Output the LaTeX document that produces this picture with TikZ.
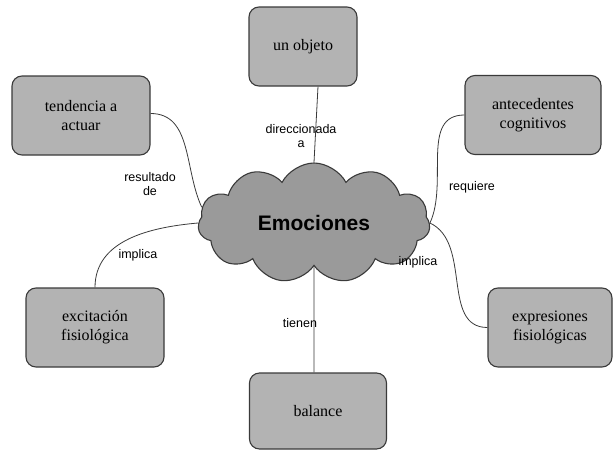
\documentclass[tikz,border=0pt]{standalone}
\usepackage{fontspec}
\setmainfont{Liberation Serif}
\setsansfont{Liberation Sans}
\usetikzlibrary{shapes.symbols}
\usetikzlibrary{positioning}

\definecolor{boxgray}{HTML}{B3B3B3}
\definecolor{cloudgray}{HTML}{9A9A9A}
\definecolor{edgegray}{HTML}{3A3A3A}

\tikzset{
  concept/.style={draw=edgegray, line width=1.1pt, fill=boxgray, rounded corners=10pt,
    minimum height=79pt, align=center, font=\fontsize{16}{19}\selectfont},
  central/.style={cloud, cloud puffs=11, cloud puff arc=125, cloud ignores aspect,
    draw=edgegray, line width=1.1pt, fill=cloudgray, minimum width=232pt, minimum height=120pt,
    font=\sffamily\bfseries\fontsize{21}{24}\selectfont},
  link/.style={draw=edgegray, line width=0.8pt},
  linklabel/.style={font=\sffamily\fontsize{12.5}{14}\selectfont, align=center, inner sep=1pt}
}

\begin{document}
\begin{tikzpicture}[x=1pt, y=-1pt]
  \useasboundingbox (0,0) rectangle (614,450);
  % concepts
  \node[central] (emo) at (314,223) {Emociones};
  \node[concept, minimum width=108pt] (obj) at (303,46.5) {un objeto};
  \node[concept, minimum width=138pt] (ten) at (81,115.5) {tendencia a\\actuar};
  \node[concept, minimum width=136pt] (ant) at (533,115) {antecedentes\\cognitivos};
  \node[concept, minimum width=138pt] (exc) at (95,327.5) {excitación\\fisiológica};
  \node[concept, minimum width=124pt] (exp) at (550,327.5) {expresiones\\fisiológicas};
  \node[concept, minimum width=137pt, minimum height=76pt] (bal) at (318,411) {balance};
  % links
  \draw[link] ([xshift=15pt]obj.south) -- (emo.north);
  \draw[link] ([yshift=2pt]ten.east) to[out=0, in=115] (emo.172);
  \draw[link] (emo.west) to[out=185, in=90] (exc.north);
  \draw[link] (emo.east) to[out=65, in=180] (ant.west);
  \draw[link] (emo.east) to[out=-25, in=180] (exp.west);
  \draw[link] (emo.south) -- ([xshift=-4pt]bal.north);
  % link labels
  \node[linklabel] (l1) at (301,136) {direccionada\\a};
  \node[linklabel] (l2) at (150,184) {resultado\\de};
  \node[linklabel] (l3) at (472,187) {requiere};
  \node[linklabel] (l4) at (138,255) {implica};
  \node[linklabel] (l5) at (418,262) {implica};
  \node[linklabel] (l6) at (300,323) {tienen};
\end{tikzpicture}
\end{document}
